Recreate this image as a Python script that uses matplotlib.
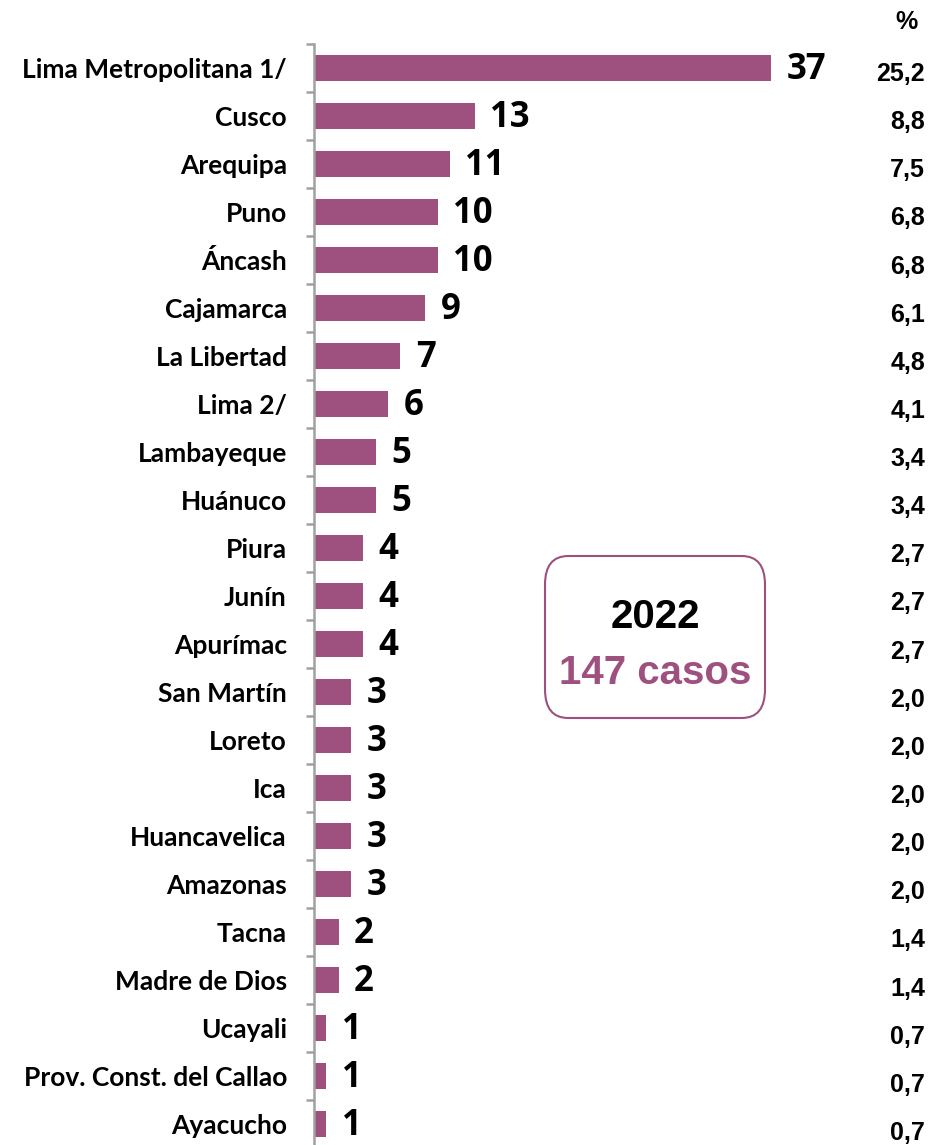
import matplotlib
matplotlib.use("Agg")
import matplotlib.pyplot as plt
from matplotlib.patches import FancyBboxPatch
import numpy as np

regions = ["Lima Metropolitana 1/", "Cusco", "Arequipa", "Puno", "Áncash", "Cajamarca",
           "La Libertad", "Lima 2/", "Lambayeque", "Huánuco", "Piura", "Junín", "Apurímac",
           "San Martín", "Loreto", "Ica", "Huancavelica", "Amazonas", "Tacna", "Madre de Dios",
           "Ucayali", "Prov. Const. del Callao", "Ayacucho"]
cases = [37, 13, 11, 10, 10, 9, 7, 6, 5, 5, 4, 4, 4, 3, 3, 3, 3, 3, 2, 2, 1, 1, 1]
percent = ["25,2", "8,8", "7,5", "6,8", "6,8", "6,1", "4,8", "4,1", "3,4", "3,4", "2,7", "2,7",
           "2,7", "2,0", "2,0", "2,0", "2,0", "2,0", "1,4", "1,4", "0,7", "0,7", "0,7"]
year_label = "2022"
total_label = "147 casos"

W, H = 930, 1145
fig = plt.figure(figsize=(W/100, H/100), dpi=100)
bar_color = "#9E507E"

n = len(regions)
left_px, top_px, spacing = 314, 44, 48.0
px_per_unit = 12.35
xmax = 45
ax = fig.add_axes([left_px/W, (H - (top_px + n*spacing))/H, xmax*px_per_unit/W, n*spacing/H])

y = np.arange(n)
ax.barh(y, cases, height=0.55, color=bar_color)
ax.set_ylim(n - 0.5, -0.5)
ax.set_xlim(0, xmax)

for s in ["top", "right", "bottom"]:
    ax.spines[s].set_visible(False)
ax.spines["left"].set_color("#A0A0A0")
ax.spines["left"].set_linewidth(1.8)
ax.set_xticks([])
ax.set_yticks(y)
ax.set_yticklabels(regions, fontfamily="Lato", fontweight="bold", fontsize=19)
ax.tick_params(axis="y", which="major", length=0, pad=19.5)
ax.set_yticks(np.arange(-0.5, n, 1), minor=True)
ax.tick_params(axis="y", which="minor", length=6, width=1.8, color="#A0A0A0")

for yi, v in zip(y, cases):
    ax.annotate(str(v), (v, yi), xytext=(11, -1.5), textcoords="offset points",
                ha="left", va="center", fontsize=25, fontweight="bold",
                fontfamily="Open Sans", color="black")

sans = ["Liberation Sans", "DejaVu Sans"]
p_top, p_bot = 74, 1133
for i, p in enumerate(percent):
    ypx = p_top + i*(p_bot - p_top)/(n - 1)
    fig.text(925/W, 1 - ypx/H, p, ha="right", va="center", fontsize=18,
             fontweight="bold", family=sans)
fig.text(906/W, 1 - 22/H, "%", ha="center", va="center", fontsize=18,
         fontweight="bold", family=sans)

bx0, by0, bx1, by1 = 545, 556, 765, 718
box = FancyBboxPatch((bx0/W, 1 - by1/H), (bx1-bx0)/W, (by1-by0)/H,
                     boxstyle="round,pad=0,rounding_size=0.025",
                     transform=fig.transFigure, facecolor="white",
                     edgecolor=bar_color, linewidth=1.5)
fig.add_artist(box)
fig.text(655/W, 1 - 617/H, year_label, ha="center", va="center", fontsize=29,
         fontweight="bold", family=sans, color="black")
fig.text(655/W, 1 - 673/H, total_label, ha="center", va="center", fontsize=29,
         fontweight="bold", family=sans, color=bar_color)

fig.savefig("out.png", dpi=100)
